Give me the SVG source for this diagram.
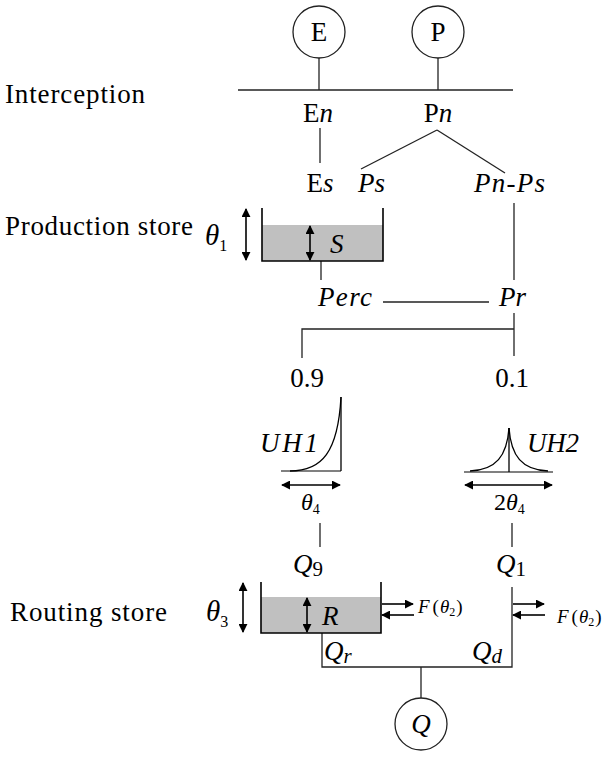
<svg xmlns="http://www.w3.org/2000/svg" width="611" height="759" viewBox="0 0 611 759">
<style>
text{font-family:"Liberation Serif","Times New Roman",serif;fill:#000;font-size:27px}
.i{font-style:italic}
.c{text-anchor:middle}
.ln{stroke:#222;stroke-width:1.3;fill:none}
.ar{stroke:#000;stroke-width:1.6;fill:none}
.base{stroke:#808080;stroke-width:2.2;fill:none}
.uh{stroke:#000;stroke-width:1.3;fill:none}
.tank{fill:#c0c0c0}
.wall{stroke:#000;stroke-width:1.6;fill:none}
.small{font-size:19px}
</style>
<defs>
<marker id="ah" viewBox="0 0 10 10" refX="9" refY="5" markerWidth="9" markerHeight="9" markerUnits="userSpaceOnUse" orient="auto-start-reverse">
<path d="M0,0 L10,5 L0,10 z" fill="#000"/>
</marker>
</defs>

<text x="5" y="103" textLength="140" lengthAdjust="spacing">Interception</text>
<text x="5" y="235" textLength="188" lengthAdjust="spacing">Production store</text>
<text x="10" y="621" textLength="157" lengthAdjust="spacing">Routing store</text>

<g id="connectors">
<line class="ln" x1="319" y1="58" x2="319" y2="90"/>
<line class="ln" x1="438" y1="58" x2="438" y2="90"/>
<line class="ln" x1="238" y1="90" x2="513" y2="90"/>
<line class="ln" x1="320" y1="128" x2="320" y2="163"/>
<line class="ln" x1="437" y1="130" x2="361" y2="169"/>
<line class="ln" x1="437" y1="130" x2="505" y2="173"/>
<line class="ln" x1="514" y1="203" x2="514" y2="280"/>
<line class="ln" x1="321" y1="261" x2="321" y2="280"/>
<line class="ln" x1="383" y1="302" x2="489" y2="302"/>
<line class="ln" x1="514" y1="313" x2="514" y2="356"/>
<polyline class="ln" points="514,329 302,329 302,358"/>
<line class="ln" x1="320" y1="523" x2="320" y2="547"/>
<line class="ln" x1="512" y1="523" x2="512" y2="547"/>
<polyline class="ln" points="322,633 322,667 512,667 512,587"/>
<line class="ln" x1="421" y1="667" x2="421" y2="701"/>
</g>

<g id="node-E">
<circle cx="319" cy="32" r="26" fill="#fff" stroke="#222" stroke-width="1.3"/>
<text class="c" x="319" y="41">E</text>
</g>
<g id="node-P">
<circle cx="438" cy="32" r="26" fill="#fff" stroke="#222" stroke-width="1.3"/>
<text class="c" x="438" y="41">P</text>
</g>

<g id="node-En"><text class="c" x="318" y="122">E<tspan class="i">n</tspan></text></g>
<g id="node-Pn"><text class="c" x="438" y="122">P<tspan class="i">n</tspan></text></g>
<g id="node-Es"><text class="c" x="320" y="192">E<tspan class="i">s</tspan></text></g>
<g id="node-Ps"><text class="i" x="358" y="192">Ps</text></g>
<g id="node-PnPs"><text class="i" x="474" y="192" textLength="71" lengthAdjust="spacing">Pn-Ps</text></g>

<g id="node-production-store">
<rect class="tank" x="262" y="225" width="121" height="36"/>
<polyline class="wall" points="262,208 262,261 383,261 383,208"/>
<line class="ar" x1="310" y1="226" x2="310" y2="260" marker-start="url(#ah)" marker-end="url(#ah)"/>
<text class="i" x="330" y="253">S</text>
<line class="ar" x1="246" y1="209" x2="246" y2="260" marker-start="url(#ah)" marker-end="url(#ah)"/>
<text x="205" y="245"><tspan class="i" font-size="29">θ</tspan><tspan font-size="16" dy="6">1</tspan></text>
</g>

<g id="node-Perc"><text class="i" x="318" y="306" textLength="54" lengthAdjust="spacing">Perc</text></g>
<g id="node-Pr"><text class="i" x="499" y="306">Pr</text></g>
<g id="node-09"><text class="c" x="307" y="387">0.9</text></g>
<g id="node-01"><text class="c" x="512" y="387">0.1</text></g>

<g id="node-UH1">
<line class="base" x1="281" y1="471" x2="341" y2="471"/>
<line class="uh" x1="341" y1="397" x2="341" y2="471"/>
<path class="uh" d="M290,471 C322,471 338,452 341,397"/>
<text class="i" x="260" y="452" textLength="58" lengthAdjust="spacing">UH1</text>
<line class="ar" x1="282" y1="485" x2="340" y2="485" marker-start="url(#ah)" marker-end="url(#ah)"/>
<text x="301" y="510"><tspan class="i" font-size="24">θ</tspan><tspan font-size="14" dy="4">4</tspan></text>
</g>

<g id="node-UH2">
<line class="base" x1="464" y1="472" x2="553" y2="472"/>
<line class="uh" x1="509" y1="428" x2="509" y2="472"/>
<path class="uh" d="M470,471 C496,470 507,456 509,428"/>
<path class="uh" d="M548,471 C522,470 511,456 509,428"/>
<text class="i" x="527" y="452" textLength="52" lengthAdjust="spacing">UH2</text>
<line class="ar" x1="465" y1="485" x2="552" y2="485" marker-start="url(#ah)" marker-end="url(#ah)"/>
<text x="494" y="510"><tspan font-size="24">2</tspan><tspan class="i" font-size="24">θ</tspan><tspan font-size="14" dy="4">4</tspan></text>
</g>

<g id="node-Q9"><text x="293" y="573"><tspan class="i">Q</tspan><tspan font-size="21" dy="3">9</tspan></text></g>
<g id="node-Q1"><text x="496" y="573"><tspan class="i">Q</tspan><tspan font-size="21" dy="3">1</tspan></text></g>

<g id="node-routing-store">
<rect class="tank" x="261" y="597" width="120" height="36"/>
<polyline class="wall" points="261,582 261,633 381,633 381,582"/>
<line class="ar" x1="307" y1="598" x2="307" y2="632" marker-start="url(#ah)" marker-end="url(#ah)"/>
<text class="i" x="322" y="625">R</text>
<line class="ar" x1="243" y1="583" x2="243" y2="632" marker-start="url(#ah)" marker-end="url(#ah)"/>
<text x="206" y="621"><tspan class="i" font-size="29">θ</tspan><tspan font-size="16" dy="6">3</tspan></text>
<line class="ar" x1="382" y1="604" x2="413" y2="604" marker-end="url(#ah)"/>
<line class="ar" x1="414" y1="615" x2="382" y2="615" marker-end="url(#ah)"/>
<text class="small" x="418" y="613"><tspan class="i">F</tspan><tspan dx="3">(</tspan><tspan class="i" dx="1">θ</tspan><tspan font-size="12" dy="3">2</tspan><tspan dy="-3" dx="1">)</tspan></text>
</g>

<g id="node-exchange-right">
<line class="ar" x1="513" y1="604" x2="544" y2="604" marker-end="url(#ah)"/>
<line class="ar" x1="545" y1="615" x2="513" y2="615" marker-end="url(#ah)"/>
<text class="small" x="557" y="623"><tspan class="i">F</tspan><tspan dx="3">(</tspan><tspan class="i" dx="1">θ</tspan><tspan font-size="12" dy="3">2</tspan><tspan dy="-3" dx="1">)</tspan></text>
</g>

<g id="node-Qr"><text x="324" y="660"><tspan class="i" font-size="27">Q</tspan><tspan class="i" font-size="21" dy="3">r</tspan></text></g>
<g id="node-Qd"><text x="472" y="660"><tspan class="i" font-size="27">Q</tspan><tspan class="i" font-size="21" dy="3">d</tspan></text></g>

<g id="node-Q">
<circle cx="421" cy="724" r="26" fill="#fff" stroke="#222" stroke-width="1.3"/>
<text class="i c" x="421" y="733">Q</text>
</g>
</svg>
